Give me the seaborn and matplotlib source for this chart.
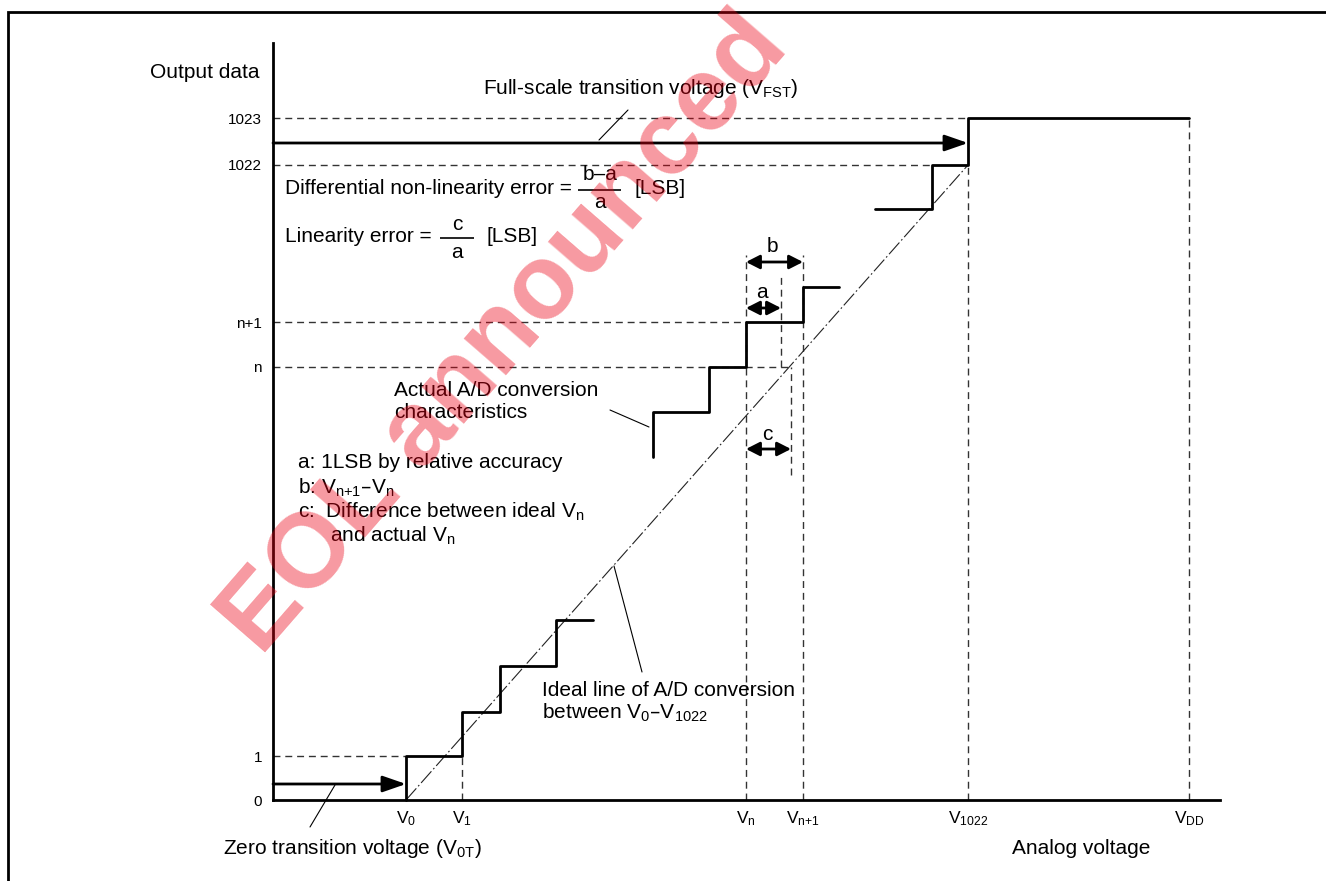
import matplotlib
matplotlib.use("Agg")
import matplotlib.pyplot as plt
import seaborn as sns
from matplotlib.patches import Rectangle

# ---------------- data (schematic units: x = analog voltage, y = output code) ----
level_pos = [0, 44, 433, 478, 635, 682]
level_labels = ["0", "1", "n", "n+1", "1022", "1023"]

volt_pos = [133, 189, 473, 530, 695, 916]
volt_labels = [r"$V_{0}$", r"$V_{1}$", r"$V_{n}$", r"$V_{n{+}1}$", r"$V_{1022}$", r"$V_{DD}$"]

# actual A/D conversion staircase (steps-post)
low_x = [133, 133, 189, 227, 283, 320]
low_y = [0, 44, 88, 134, 180, 180]
mid_x = [380, 380, 436, 473, 530, 566]
mid_y = [343, 388, 433, 478, 513, 513]
top_x = [602, 659, 695, 916]
top_y = [591, 635, 682, 682]

# ideal line V0 - V1022
ideal_x = [133, 695]
ideal_y = [0, 635]

# dashed guide lines
hguide_y = [44, 433, 478, 635, 682]
hguide_xmax = [133, 518, 473, 659, 695]
vguide_x = [189, 473, 530, 508, 518, 695, 916]
vguide_ymin = [0, 0, 0, 433, 325, 0, 0]
vguide_ymax = [44, 545, 545, 523, 433, 635, 682]

# transition arrows
zero_arrow = (0, 133, 16)      # x0, x1, y
fst_arrow = (0, 695, 657)
a_span = (473, 508, 492)
b_span = (473, 530, 538)
c_span = (473, 518, 351)

# ---------------- style ----------------
sns.set_theme(style="white")
plt.rcParams["font.family"] = ["Liberation Sans", "DejaVu Sans"]
plt.rcParams["mathtext.default"] = "regular"

fig = plt.figure(figsize=(13.26, 8.81), dpi=100)
ax = fig.add_axes([273 / 1326, 81 / 881, 947 / 1326, 757 / 881])
ax.set_xlim(0, 947)
ax.set_ylim(0, 757)
ax.set_facecolor("white")
for s in ["top", "right"]:
    ax.spines[s].set_visible(False)
for s in ["left", "bottom"]:
    ax.spines[s].set_linewidth(2.0)
    ax.spines[s].set_color("black")

ax.set_yticks(level_pos, labels=level_labels)
ax.set_xticks(volt_pos, labels=volt_labels)
ax.tick_params(axis="y", length=0, pad=8, labelsize=11, labelcolor="black")
ax.tick_params(axis="x", length=0, pad=7, labelsize=12.5, labelcolor="black")

dash = (0, (5, 3.5))
ax.hlines(hguide_y, 0, hguide_xmax, colors="#333333", linewidth=1.0, linestyles=[dash])
ax.vlines(vguide_x, vguide_ymin, vguide_ymax, colors="#333333", linewidth=1.0, linestyles=[dash])

# ideal line
sns.lineplot(x=ideal_x, y=ideal_y, sort=False, estimator=None, color="#222222",
             linewidth=0.8, ax=ax)
ax.lines[-1].set_linestyle((0, (14, 2.5, 1.5, 2.5)))

# staircases
for xs, ys in [(low_x, low_y), (mid_x, mid_y), (top_x, top_y)]:
    sns.lineplot(x=xs, y=ys, sort=False, estimator=None, drawstyle="steps-post",
                 color="black", linewidth=2.0, ax=ax)
for ln in ax.lines:
    ln.set_clip_on(False)

# single arrows
for x0, x1, y in [zero_arrow, fst_arrow]:
    ax.annotate("", xy=(x1, y), xytext=(x0, y),
                arrowprops=dict(arrowstyle="-|>,head_length=0.95,head_width=0.33",
                                mutation_scale=15, lw=2.0, color="black",
                                shrinkA=0, shrinkB=0))
# double arrows
for x0, x1, y in [a_span, b_span, c_span]:
    ax.annotate("", xy=(x1, y), xytext=(x0, y),
                arrowprops=dict(arrowstyle="<|-|>,head_length=0.55,head_width=0.28",
                                mutation_scale=15, lw=2.0, color="black",
                                shrinkA=0, shrinkB=0))

FS = 15
def txt(x, y, s, ha="left", va="center", size=FS):
    ax.text(x, y, s, ha=ha, va=va, fontsize=size, color="black", clip_on=False)

txt(489, 507, "a", ha="center")
txt(499, 554, "b", ha="center")
txt(494, 366, "c", ha="center")

txt(-14, 728, "Output data", ha="right")
txt(368, 712, r"Full-scale transition voltage ($V_{FST}$)", ha="center")

txt(12, 612, "Differential non-linearity error =")
txt(327, 626, "b–a", ha="center")
ax.plot([305, 348], [610, 610], color="black", lw=1.2, solid_capstyle="butt")
txt(327, 597, "a", ha="center")
txt(362, 612, "[LSB]")

txt(12, 563, "Linearity error =")
txt(184, 575, "c", ha="center")
ax.plot([167, 201], [562, 562], color="black", lw=1.2, solid_capstyle="butt")
txt(184, 548, "a", ha="center")
txt(213, 563, "[LSB]")

txt(121, 410, "Actual A/D conversion")
txt(121, 387, "characteristics")

txt(25, 337, "a: 1LSB by relative accuracy")
txt(25, 312, r"b: $V_{n{+}1}$–$V_{n}$")
txt(25, 288, r"c:  Difference between ideal $V_{n}$")
txt(57, 264, r"and actual $V_{n}$")

txt(269, 110, "Ideal line of A/D conversion")
txt(269, 87, r"between $V_{0}$–$V_{1022}$")

txt(79, -48, r"Zero transition voltage ($V_{0T}$)", ha="center")
txt(808, -48, "Analog voltage", ha="center")

# leader lines
leaders = [((37, -27), (62, 15)), ((326, 660), (355, 690)),
           ((337, 390), (376, 373)), ((369, 128), (341, 234))]
for (xa, ya), (xb, yb) in leaders:
    ax.plot([xa, xb], [ya, yb], color="black", lw=0.8, clip_on=False)

# page frame
fig.add_artist(Rectangle((8 / 1326, -0.05), 1.2, 1 - 12 / 881 + 0.05,
                         transform=fig.transFigure, fill=False, lw=2.0, ec="black"))

# watermark
fig.text(505 / 1326, 1 - 335 / 881, "EOL announced", rotation=49, fontsize=76,
         fontweight="bold", color=(0.92, 0.0, 0.08), alpha=0.4, ha="center",
         va="center", rotation_mode="anchor", zorder=20)

fig.savefig("out.png", dpi=100)
